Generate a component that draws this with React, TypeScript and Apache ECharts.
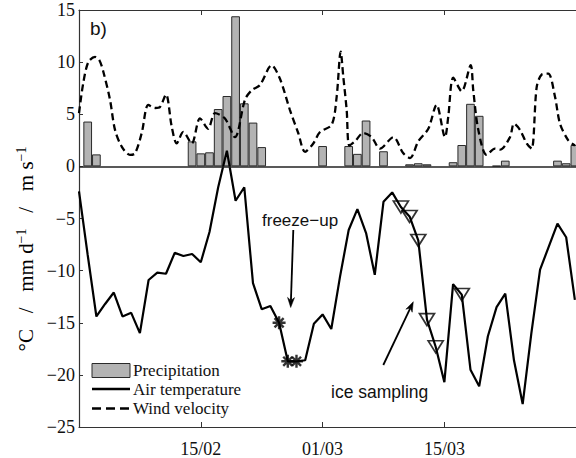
import React, { useEffect, useRef } from 'react';
import * as echarts from 'echarts';

// x values are days since 01/02
const dateTicks = [14, 28, 42];
const dateLabels = ['15/02', '01/03', '15/03'];

const precipDays = [1, 2, 13, 14, 15, 16, 17, 18, 19, 20, 21, 28, 31, 32, 33, 35, 38, 39, 40, 43, 44, 45, 46, 48, 49, 55, 56, 57];
const precipValues = [4.3, 1.15, 2.4, 1.25, 1.35, 5.5, 6.75, 14.4, 6.05, 4.2, 1.85, 1.95, 1.95, 1.2, 4.4, 1.45, 0.2, 0.3, 0.2, 0.4, 2.05, 6.0, 4.85, 0.05, 0.55, 0.55, 0.3, 2.05];

const tempValues = [
  -2.4, -8.5, -14.4, -13.2, -12.1, -14.4, -14.05, -16.0, -10.9, -10.2,
  -10.3, -8.3, -8.6, -8.4, -9.2, -6.3, -2.0, 1.5, -3.3, -2.0,
  -11.2, -13.7, -13.4, -15.0, -18.7, -18.7, -18.6, -15.1, -14.2, -15.6,
  -10.6, -6.1, -4.1, -6.4, -10.4, -3.4, -2.5, -3.9, -4.8, -7.1,
  -14.7, -17.3, -20.7, -11.3, -12.3, -19.5, -21.1, -16.3, -13.5, -12.2,
  -18.6, -22.8, -16.0, -9.9, -7.7, -5.5, -6.8, -12.8,
];

const windDays = [
  0, 0.49, 1.07, 1.84, 2.33, 2.79, 3.56, 4.14, 4.91, 5.86, 6.44, 7.21, 7.97, 8.74, 9.31, 10.0, 10.66, 11.23, 11.99, 12.95,
  13.91, 14.84, 15.63, 16.78, 17.93, 19.08, 19.85, 20.8, 22.15, 23.1, 24.25, 25.2, 25.98, 26.93, 27.7, 29.05, 29.62, 30.08,
  30.38, 30.77, 31.07, 31.72, 32.68, 33.64, 34.6, 36.13, 37.28, 38.05, 39.0, 40.15, 41.1, 42.07, 42.45, 43.02, 43.99, 45.02,
  45.32, 45.9, 46.86, 47.82, 48.39, 49.54, 50.0, 50.69, 51.46, 52.03, 52.61, 53.18, 53.94, 54.71, 55.29, 56.24, 57.01,
];
const windValues = [
  5.1, 8.0, 10.0, 10.5, 10.2, 9.1, 6.4, 3.5, 1.9, 1.1, 1.25, 3.2, 5.9, 5.6, 5.7, 6.9, 3.8, 2.2, 3.3, 2.2,
  4.6, 3.6, 5.1, 4.6, 2.8, 6.4, 7.3, 7.8, 9.7, 8.4, 5.4, 3.2, 1.4, 2.2, 3.3, 4.0, 6.7, 11.0,
  8.6, 5.4, 2.0, 2.4, 3.2, 2.8, 1.7, 2.8, 1.25, 0.8, 2.4, 3.6, 5.9, 2.8, 4.8, 8.5, 7.2, 9.7,
  7.3, 3.5, 1.1, 1.7, 1.6, 2.8, 4.1, 3.5, 2.2, 1.7, 7.6, 8.8, 8.9, 6.7, 4.1, 2.5, 2.0,
];

const freezeDays = [23, 24, 25];
const iceDays = [37, 38, 39, 40, 41, 44];

const legendNames = ['Precipitation', 'Air temperature', 'Wind velocity'];

const SERIF = "'Liberation Serif', 'Times New Roman', serif";
const SANS = "'Liberation Sans', Arial, sans-serif";
const TXT = '#111';

function arrow(x1: number, y1: number, x2: number, y2: number) {
  const dx = x2 - x1;
  const dy = y2 - y1;
  const len = Math.sqrt(dx * dx + dy * dy);
  const ux = dx / len;
  const uy = dy / len;
  const nx = -uy;
  const ny = ux;
  const hl = 10;
  const hw = 3.5;
  const bx = x2 - hl * ux;
  const by = y2 - hl * uy;
  const mx = x2 - 7 * ux;
  const my = y2 - 7 * uy;
  return [
    { type: 'line', shape: { x1, y1, x2: mx, y2: my }, style: { stroke: '#000', lineWidth: 1.8 } },
    {
      type: 'polygon',
      shape: { points: [[x2, y2], [bx + hw * nx, by + hw * ny], [mx, my], [bx - hw * nx, by - hw * ny]] },
      style: { fill: '#000', stroke: '#000', lineWidth: 0.5 },
    },
  ];
}

function legendGraphic() {
  const x0 = 92;
  const x1 = 130;
  const tx = 133;
  const rows = [370.5, 389, 408.5];
  const els: any[] = [
    { type: 'rect', shape: { x: x0, y: rows[0] - 7, width: x1 - x0, height: 14 }, style: { fill: '#b3b3b3', stroke: '#2a2a2a', lineWidth: 1 } },
    { type: 'line', shape: { x1: x0, y1: rows[1], x2: x1, y2: rows[1] }, style: { stroke: '#000', lineWidth: 2.6 } },
    { type: 'line', shape: { x1: x0, y1: rows[2], x2: x1, y2: rows[2] }, style: { stroke: '#000', lineWidth: 2.6, lineDash: [9, 5] } },
  ];
  legendNames.forEach((n, i) => {
    els.push({ type: 'text', x: tx, y: rows[i], style: { text: n, font: `17px ${SERIF}`, fill: TXT, verticalAlign: 'middle' } });
  });
  return els;
}

export default function App() {
  const ref = useRef<HTMLDivElement>(null);
  useEffect(() => {
    if (!ref.current) return;
    const chart = echarts.init(ref.current, null, { renderer: 'svg' });
    const asterisk = 'path://M5,0L5,10M0,5L10,5M1.5,1.5L8.5,8.5M1.5,8.5L8.5,1.5';
    const option: any = {
      animation: false,
      backgroundColor: '#fff',
      grid: { left: 79, right: 0, top: 10, bottom: 31 },
      xAxis: [
        {
          type: 'value',
          min: 0,
          max: 57.13,
          position: 'bottom',
          splitLine: { show: false },
          axisLine: { show: true, onZero: false, lineStyle: { color: '#333', width: 1.2 } },
          axisTick: { show: true, inside: true, length: 5, customValues: dateTicks, lineStyle: { color: '#333' } },
          axisLabel: {
            customValues: dateTicks,
            margin: 13,
            fontFamily: SERIF,
            fontSize: 18,
            color: TXT,
            formatter: (v: number) => {
              const i = dateTicks.indexOf(Math.round(v));
              return i >= 0 ? dateLabels[i] : '';
            },
          },
        },
        {
          type: 'value',
          min: 0,
          max: 57.13,
          position: 'top',
          splitLine: { show: false },
          axisLine: { show: true, onZero: false, lineStyle: { color: '#333', width: 1.2 } },
          axisTick: { show: true, inside: true, length: 5, customValues: dateTicks, lineStyle: { color: '#333' } },
          axisLabel: { show: false },
        },
      ],
      yAxis: {
        type: 'value',
        min: -25,
        max: 15,
        interval: 5,
        splitLine: { show: false },
        axisLine: { show: true, lineStyle: { color: '#333', width: 1.2 } },
        axisTick: { show: true, inside: true, length: 4, lineStyle: { color: '#333' } },
        axisLabel: {
          margin: 4,
          fontFamily: SERIF,
          fontSize: 18,
          color: TXT,
          formatter: (v: number) => (v < 0 ? '\u2212' + Math.abs(v) : String(v)),
        },
      },
      series: [
        {
          name: legendNames[0],
          type: 'bar',
          barWidth: 8.7,
          data: precipDays.map((d, i) => [d, precipValues[i]]),
          itemStyle: { color: '#b3b3b3', borderColor: '#2a2a2a', borderWidth: 1 },
          z: 2,
          markLine: {
            silent: true,
            symbol: 'none',
            label: { show: false },
            lineStyle: { color: '#222', width: 1.5, type: 'solid' },
            data: [{ yAxis: 0 }],
          },
        },
        {
          name: legendNames[1],
          type: 'line',
          data: tempValues.map((v, i) => [i, v]),
          showSymbol: false,
          symbol: 'none',
          lineStyle: { color: '#000', width: 2.2 },
          itemStyle: { color: '#000' },
          z: 4,
        },
        {
          name: legendNames[2],
          type: 'line',
          data: windDays.map((d, i) => [d, windValues[i]]),
          showSymbol: false,
          symbol: 'none',
          smooth: 0.3,
          lineStyle: { color: '#000', width: 2.3, type: [7, 4] },
          itemStyle: { color: '#000' },
          z: 3,
        },
        {
          name: 'freeze',
          type: 'scatter',
          data: freezeDays.map((d) => [d, tempValues[d]]),
          symbol: asterisk,
          symbolSize: 13,
          itemStyle: { color: 'rgba(0,0,0,0)', borderColor: '#000', borderWidth: 2.4 },
          z: 5,
        },
        {
          name: 'ice',
          type: 'scatter',
          data: iceDays.map((d) => [d, tempValues[d]]),
          symbol: 'triangle',
          symbolRotate: 180,
          symbolSize: [15, 12],
          itemStyle: { color: 'rgba(0,0,0,0)', borderColor: '#000', borderWidth: 1.7 },
          z: 5,
        },
      ],
      graphic: [
        {
          type: 'text',
          x: 26,
          y: 249,
          rotation: Math.PI / 2,
          style: {
            text: '°C   /   mm d{sup|\u22121}   /   m s{sup|\u22121}',
            font: `21px ${SERIF}`,
            fill: '#000',
            align: 'center',
            verticalAlign: 'middle',
            rich: {
              sup: { fontSize: 14, fontFamily: SERIF, fill: '#000', verticalAlign: 'top', padding: [0, 0, 10, 0] },
            },
          },
        },
        {
          type: 'text',
          x: 90,
          y: 28,
          style: { text: 'b)', font: `19px ${SANS}`, fill: TXT, verticalAlign: 'middle' },
        },
        {
          type: 'text',
          x: 262,
          y: 220,
          style: { text: 'freeze\u2212up', font: `17px ${SANS}`, fill: TXT, verticalAlign: 'middle' },
        },
        {
          type: 'text',
          x: 331,
          y: 392,
          style: { text: 'ice sampling', font: `17.5px ${SANS}`, fill: TXT, verticalAlign: 'middle' },
        },
        ...arrow(293.3, 230, 290.7, 307.5),
        ...arrow(383.3, 365, 413.3, 301.7),
        ...legendGraphic(),
      ],
    };
    chart.setOption(option);
    return () => chart.dispose();
  }, []);
  return (
    <div
      ref={ref}
      style={{ position: 'fixed', left: 0, top: 0, width: 576, height: 458, background: '#fff' }}
    />
  );
}
